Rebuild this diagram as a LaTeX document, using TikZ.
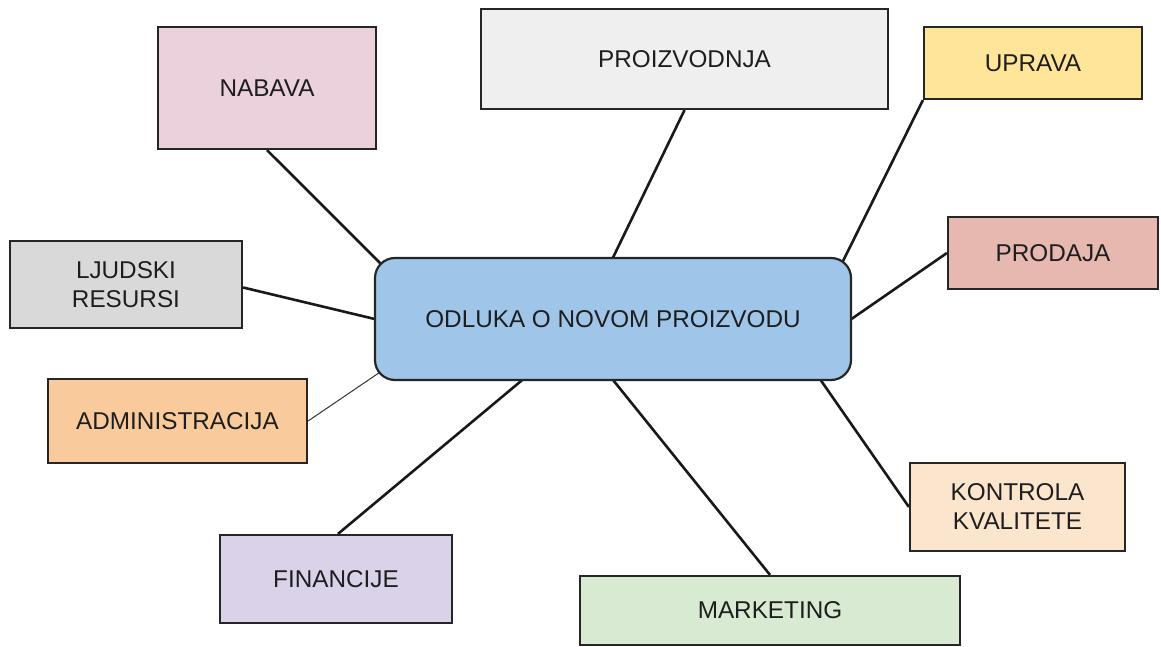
\documentclass[tikz,border=0pt]{standalone}
\usepackage{fontspec}
\setmainfont{Liberation Sans}
\usetikzlibrary{calc}
\pgfdeclarelayer{paper}
\pgfdeclarelayer{bg}
\pgfsetlayers{paper,bg,main}
\definecolor{cnab}{HTML}{EAD1DC}
\definecolor{cpro}{HTML}{EFEFEF}
\definecolor{cupr}{HTML}{FFE599}
\definecolor{cprd}{HTML}{E6B8AF}
\definecolor{clj}{HTML}{D9D9D9}
\definecolor{cod}{HTML}{9FC5E8}
\definecolor{cadm}{HTML}{F9CB9C}
\definecolor{ckon}{HTML}{FCE5CD}
\definecolor{cfin}{HTML}{D9D2E9}
\definecolor{cmkt}{HTML}{D9EAD3}
\definecolor{txt}{HTML}{1E1E1E}
\tikzset{
  box/.style={draw=black!85, line width=2.2pt, inner sep=0pt, anchor=center,
    font=\fontsize{24.3}{29}\selectfont, text=txt, align=center},
  link/.style={draw=black!90, line width=2.6pt},
  thinlink/.style={draw=black!80, line width=1pt}
}
\newcommand{\boxat}[7]{% name, x1, y1, x2, y2, fill, text
  \node[box, fill=#6, minimum width=#4-#2, minimum height=#5-#3] (#1) at ({(#2+#4)/2},{(#3+#5)/2}) {#7};}
\begin{document}
\begin{tikzpicture}[x=1pt,y=-1pt]
\begin{pgfonlayer}{paper}
\fill[white] (0,0) rectangle (1161,647);
\end{pgfonlayer}
\useasboundingbox (0,0) rectangle (1161,647);
\boxat{nab}{158}{27}{376}{149}{cnab}{NABAVA}
\boxat{pro}{481}{9}{888}{109}{cpro}{PROIZVODNJA}
\boxat{upr}{924}{27}{1142}{99}{cupr}{UPRAVA}
\boxat{prd}{948}{217}{1158}{289}{cprd}{PRODAJA}
\boxat{lj}{10}{241}{242}{328}{clj}{LJUDSKI\\RESURSI}
\boxat{adm}{48}{379}{307}{463}{cadm}{ADMINISTRACIJA}
\boxat{kon}{910}{463}{1125}{551}{ckon}{KONTROLA\\KVALITETE}
\boxat{fin}{220}{535}{452}{623}{cfin}{FINANCIJE}
\boxat{mkt}{580}{576}{960}{645}{cmkt}{MARKETING}
\node[box, rounded corners=20pt, fill=cod, minimum width=476, minimum height=122] (od) at (613,319) {ODLUKA O NOVOM PROIZVODU};
\begin{pgfonlayer}{bg}
\draw[link] (nab.south) -- ($(od.north west)+(10,10)$);
\draw[link] (pro.south) -- ($(od.north west)+(237,5)$);
\draw[link] (upr.south west) -- ($(od.north east)+(-13,12)$);
\draw[link] ($(prd.west)+(0,0)$) -- ($(od.east)+(-5,3)$);
\draw[link] ($(lj.east)+(0,3)$) -- ($(od.west)+(5,1)$);
\draw[thinlink] (adm.east) -- ($(od.south west)+(15,-15)$);
\draw[link] ($(fin.north)+(2,0)$) -- ($(od.south west)+(153,-5)$);
\draw[link] (mkt.north) -- ($(od.south west)+(236,-5)$);
\draw[link] (kon.west) -- ($(od.south west)+(444,-5)$);
\end{pgfonlayer}
\end{tikzpicture}
\end{document}
